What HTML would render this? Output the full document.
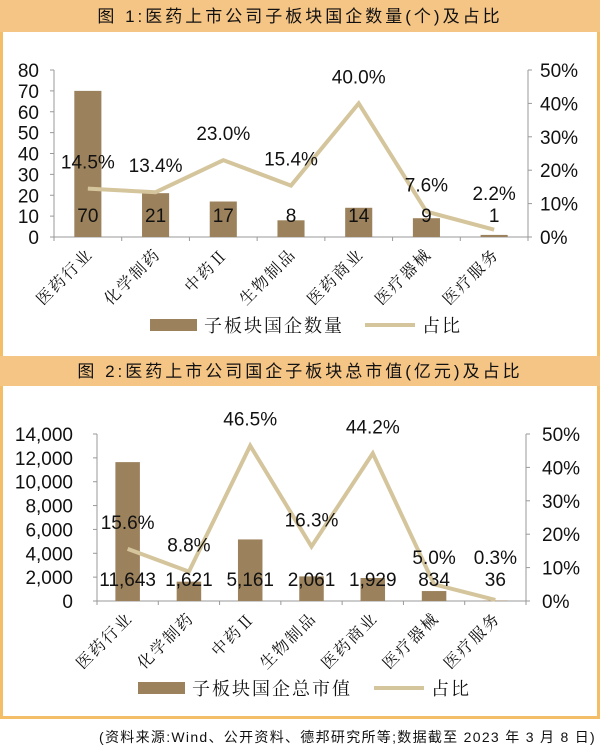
<!DOCTYPE html>
<html><head><meta charset="utf-8"><style>
html,body{margin:0;padding:0;background:#fff;}
svg{display:block;}
.ax{font-family:"Liberation Sans",sans-serif;font-size:19px;fill:#111;}
.cat{font-family:"Liberation Serif","Noto Serif CJK SC",serif;font-size:16px;fill:#111;letter-spacing:2px;}
.ttl{font-family:"Liberation Sans","Noto Sans CJK SC",sans-serif;font-size:17px;font-weight:normal;fill:#111;letter-spacing:3px;}
.lg{font-family:"Liberation Serif","Noto Serif CJK SC",serif;font-size:18px;fill:#111;letter-spacing:2px;}
.ft{font-family:"Liberation Sans","Noto Sans CJK SC",sans-serif;font-size:14px;fill:#111;letter-spacing:1.3px;}
</style></head><body>
<svg id="root" width="600" height="753" viewBox="0 0 600 753" xmlns="http://www.w3.org/2000/svg">
<rect x="1.5" y="1.5" width="597" height="716" fill="#fff" stroke="#f4bd68" stroke-width="3"/>
<rect x="0" y="0" width="600" height="32" fill="#f5c586"/>
<text class="ttl" x="300" y="22" text-anchor="middle">图 1:医药上市公司子板块国企数量(个)及占比</text>
<rect x="0" y="356" width="600" height="30" fill="#f5c586"/>
<text class="ttl" x="300" y="377" text-anchor="middle">图 2:医药上市公司国企子板块总市值(亿元)及占比</text>
<g id="c1"></g>
<g id="c2"></g>
<text class="ft" x="596" y="742" text-anchor="end">(资料来源:Wind、公开资料、德邦研究所等;数据截至 2023 年 3 月 8 日)</text>
</svg>
<script>
const categories = ["医药行业","化学制药","中药Ⅱ","生物制品","医药商业","医疗器械","医疗服务"];
const counts = [70,21,17,8,14,9,1];
const countShare = [14.5,13.4,23.0,15.4,40.0,7.6,2.2];
const marketCap = [11643,1621,5161,2061,1929,834,36];
const capShare = [15.6,8.8,46.5,16.3,44.2,5.0,0.3];
const leftTicks1 = [0,10,20,30,40,50,60,70,80];
const leftTicks2 = [0,2000,4000,6000,8000,10000,12000,14000];
const rightTicks = [0,10,20,30,40,50];

const NS="http://www.w3.org/2000/svg";
function mk(tag,attrs,parent,text){const e=document.createElementNS(NS,tag);for(const k in attrs)e.setAttribute(k,attrs[k]);if(text!==undefined)e.textContent=text;parent.appendChild(e);return e;}

function chart(g,cfg){
  const {x0,x1,yb,yt,lmax,vals,shares,ticks,fmt,labelX,rLabelX,valY,legendY,sw,lineSw,barName,pfx}=cfg;
  const n=categories.length, step=(x1-x0)/n;
  const xc=i=>x0+step*(i+0.5);
  const yL=v=>yb-(v/lmax)*(yb-yt);
  const yR=v=>yb-(v/50)*(yb-yt);
  const bw=step*0.4;
  let e=mk('line',{x1:x0,y1:yt,x2:x0,y2:yb,stroke:'#999','stroke-width':1},g);
  
  e=mk('line',{x1:x1,y1:yt,x2:x1,y2:yb,stroke:'#999','stroke-width':1},g);
  
  e=mk('line',{x1:x0,y1:yb,x2:x1,y2:yb,stroke:'#999','stroke-width':1},g);
  
  ticks.forEach(t=>{
    const y=yL(t);
    let l=mk('line',{x1:x0-4,y1:y,x2:x0,y2:y,stroke:'#999'},g);
    
    let tx=mk('text',{class:'ax',x:labelX,y:y+7,'text-anchor':'end'},g,fmt(t));
    
  });
  rightTicks.forEach(t=>{
    const y=yR(t);
    let l=mk('line',{x1:x1,y1:y,x2:x1+4,y2:y,stroke:'#999'},g);
    
    let tx=mk('text',{class:'ax',x:rLabelX,y:y+7},g,t+'%');
    
  });
  for(let i=0;i<=n;i++){
    let l=mk('line',{x1:x0+step*i,y1:yb,x2:x0+step*i,y2:yb+4,stroke:'#999'},g);
    
  }
  vals.forEach((v,i)=>{
    const y=yL(v);
    let r=mk('rect',{x:xc(i)-bw/2,y:y,width:bw,height:yb-y,fill:'#9c825c'},g);
    
  });
  const pts=shares.map((s,i)=>xc(i)+','+yR(s)).join(' ');
  let pl=mk('polyline',{points:pts,fill:'none',stroke:'#d5c59c','stroke-width':4,'stroke-linejoin':'miter'},g);
  
  vals.forEach((v,i)=>{
    let t=mk('text',{class:'ax',x:xc(i),y:valY,'text-anchor':'middle'},g,v.toLocaleString('en-US'));
    
  });
  shares.forEach((s,i)=>{
    const ly=Math.min(yR(s)-20, valY-22);
    let t=mk('text',{class:'ax',x:xc(i),y:ly,'text-anchor':'middle'},g,s.toFixed(1)+'%');
    
  });
  categories.forEach((c,i)=>{
    let t=mk('text',{class:'cat',x:0,y:0,'text-anchor':'end',transform:`translate(${xc(i)+6},${yb+18}) rotate(-45)`},g,c);
    
  });
  let r=mk('rect',{x:sw,y:legendY-6,width:47,height:12,fill:'#9c825c'},g);
  
  let t=mk('text',{class:'lg',x:sw+54,y:legendY+7},g,barName);
  
  let l=mk('line',{x1:lineSw,y1:legendY,x2:lineSw+50,y2:legendY,stroke:'#d5c59c','stroke-width':4},g);
  
  t=mk('text',{class:'lg',x:lineSw+57,y:legendY+7},g,'占比');
  
}
chart(document.getElementById('c1'),{x0:54,x1:528,yb:237,yt:70,lmax:80,vals:counts,shares:countShare,ticks:leftTicks1,fmt:v=>String(v),labelX:39,rLabelX:540,valY:222,legendY:325,sw:150,lineSw:365,barName:'子板块国企数量',pfx:'chart1'});
chart(document.getElementById('c2'),{x0:97,x1:526,yb:601,yt:434,lmax:14000,vals:marketCap,shares:capShare,ticks:leftTicks2,fmt:v=>v.toLocaleString('en-US'),labelX:73,rLabelX:542,valY:586,legendY:688,sw:138,lineSw:374,barName:'子板块国企总市值',pfx:'chart2'});
</script>
</body></html>
